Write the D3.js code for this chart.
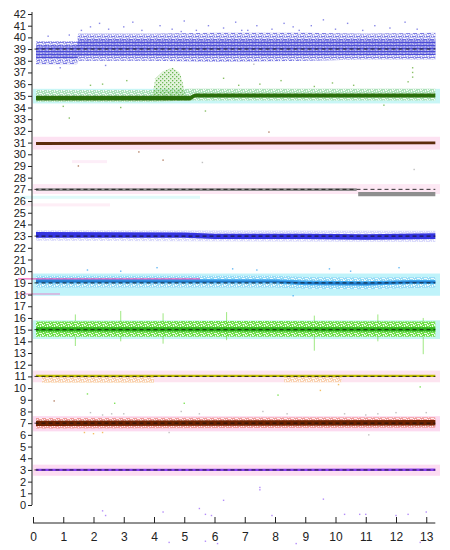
<!DOCTYPE html>
<html><head><meta charset="utf-8">
<script src="https://cdn.jsdelivr.net/npm/d3@7"></script>
<style>body{margin:0;background:#fff} svg text{font-family:"Liberation Sans",Arial,sans-serif}</style>
</head><body><svg id="c" width="450" height="550"></svg>
<script>
// ---------- data ----------
const xTicks = d3.range(0, 14);
const yTicks = d3.range(0, 43);
const nominal = [39, 35, 31, 27, 23, 19, 15, 11, 7, 3];
const dashedAt = [39, 27, 23, 19, 15, 11, 7, 3];
const coreColors = ["#3030c8", "#2a6e0a", "#5c2c0c", "#8e8e8e", "#3434e0", "#1e78c8", "#2cb018", "#c0c000", "#6e2200", "#8840ee"];
const spreadColors = ["#6a6ae0", "#6cb040", "#a06040", "#b0b0b0", "#6a6af0", "#40a8f0", "#60dc30", "#f0b040", "#e04020", "#a070f8"];
const bgColors = [null, "#c8f6f6", "#fde2f2", "#fde8f4", null, "#bff3fa", "#c6f6f2", "#fde4f0", "#fcdaf0", "#fddcf2"];
const bgLo = [0, 34.35, 30.4, 26.6, 0, 17.9, 14.2, 10.5, 6.3, 2.5];
const bgHi = [0, 35.6, 31.5, 27.45, 0, 19.8, 15.8, 11.5, 7.6, 3.45];

// [x, lo, hi] profiles
const spread39 = [[0.1,37.7,39.7],[1.45,37.7,39.7],[1.5,38.0,40.3],[4,38.0,40.3],[6,37.9,40.4],[9,38.0,40.4],[11,38.1,40.3],[13.3,38.1,40.4]];
const core39 = [[0.1,38.2,39.3],[1.45,38.2,39.3],[1.5,38.4,39.8],[6,38.4,39.8],[13.3,38.5,39.8]];
const spread35 = [[0.1,34.5,35.5],[4,34.5,35.5],[5.2,34.6,35.6],[13.3,34.6,35.6]];
const core35 = [[0.1,34.6,35.0],[5.2,34.6,35.0],[5.35,34.85,35.2],[13.3,34.85,35.2]];
const cloud35 = [[3.95,35.0,35.1],[4.05,35.0,36.5],[4.3,35.0,37.1],[4.6,35.0,37.4],[4.85,35.0,37.0],[4.97,35.0,35.9],[5.02,35.0,35.1]];
const core31 = [[0.1,30.8,31.05],[13.3,30.85,31.1]];
const core27a = [[0.1,26.85,27.1],[10.7,26.85,27.1]];
const core27b = [[10.75,26.4,26.78],[13.3,26.4,26.78]];
const spread23 = [[0.1,22.6,23.5],[13.3,22.5,23.45]];
const core23 = [[0.1,22.85,23.35],[5,22.85,23.3],[6,22.75,23.2],[9,22.75,23.2],[11,22.7,23.15],[13.3,22.75,23.25]];
const spread19 = [[0.1,18.6,19.6],[8,18.6,19.6],[9,18.5,19.5],[11,18.45,19.45],[13.3,18.6,19.5]];
const core19 = [[0.1,18.95,19.35],[8,18.95,19.3],[9,18.8,19.2],[11,18.75,19.15],[12.5,18.9,19.25],[13.3,18.9,19.25]];
const spread15 = [[0.1,14.4,15.7],[6,14.4,15.75],[13.3,14.4,15.7]];
const core15 = [[0.1,14.85,15.2],[13.3,14.85,15.2]];
const spread11a = [[0.3,10.45,10.95],[4,10.45,10.95]];
const spread11b = [[8.3,10.5,10.95],[10.2,10.5,10.95]];
const core11 = [[0.1,10.95,11.15],[13.3,10.95,11.15]];
const spread7 = [[0.1,6.55,7.45],[13.3,6.6,7.5]];
const core7 = [[0.1,6.75,7.2],[13.3,6.8,7.28]];
const core3 = [[0.1,2.9,3.1],[13.3,2.9,3.12]];
const spikes15 = [[1.4,13.6,16.3],[2.9,14.0,16.6],[4.3,13.8,16.4],[6.4,14.1,16.5],[9.3,13.2,16.2],[11.4,14.0,16.3],[12.9,12.9,16.0]];

// scattered outliers [x, y, colour index]
const outliers = [
 [0.5,40.1,0],[1.2,40.2,0],[1.6,40.6,0],[1.9,40.9,0],[2.2,41.2,0],[2.5,40.7,0],[3.0,40.9,0],[3.3,41.3,0],[3.6,40.6,0],[4.2,41.0,0],[4.6,40.7,0],[5.0,41.4,0],[5.4,40.6,0],[5.8,41.0,0],[6.3,40.8,0],[6.7,41.3,0],[7.1,40.6,0],[7.4,41.0,0],[7.9,40.7,0],[8.3,41.2,0],[8.8,40.6,0],[9.2,41.0,0],[9.6,41.5,0],[10.0,40.7,0],[10.4,41.2,0],[10.9,40.6,0],[11.3,41.0,0],[11.8,40.8,0],[12.3,41.3,0],[12.7,40.7,0],[0.9,37.4,0],[2.4,37.6,0],[7.3,37.7,3],[6.9,40.6,0],[8.6,40.9,0],[4.9,40.5,0],
 [1.0,34.1,1],[1.2,33.1,1],[1.9,35.9,1],[2.3,36.0,1],[3.1,36.3,1],[6.3,36.5,1],[6.8,35.9,1],[7.5,36.0,1],[9.3,35.8,1],[9.9,36.1,1],[10.6,35.9,1],[12.4,36.2,1],[12.55,37.0,1],[12.55,36.6,1],[12.55,37.4,1],[2.9,34.0,1],[5.7,33.7,1],[11.6,34.2,1],[8.2,36.3,1],
 [1.5,29.0,2],[4.3,29.5,2],[5.6,29.3,3],[12.6,28.7,3],[7.8,31.9,2],[3.5,30.2,2],
 [1.8,20.1,5],[2.9,20.0,5],[4.1,20.3,5],[6.6,20.2,5],[7.4,20.1,5],[9.8,20.2,5],[10.5,20.0,5],[12.1,20.3,5],[8.6,17.9,5],
 [1.8,9.5,6],[2.7,8.7,6],[0.7,8.9,2],[5.0,8.7,6],[8.1,9.4,6],[9.5,9.8,7],[10.1,10.3,7],[12.8,10.1,6],
 [1.9,7.9,3],[2.3,7.7,3],[2.6,7.8,3],[3.0,7.8,3],[4.9,8.0,3],[5.5,7.8,3],[7.6,8.0,3],[8.4,7.8,3],[10.3,7.8,3],[11.0,7.7,3],[11.4,7.8,3],[12.0,7.9,3],[13.0,7.9,3],[1.7,6.2,7],[2.0,6.1,7],[2.3,6.2,7],[4.5,6.2,3],[11.1,6.0,3],
 [2.3,-0.5,9],[2.4,-0.9,9],[4.3,-0.6,9],[5.5,-0.3,9],[5.7,-0.8,9],[5.9,-0.9,9],[7.5,1.5,9],[7.5,1.3,9],[7.9,-0.9,9],[10.3,-0.8,9],[10.8,-0.8,9],[11.0,-0.8,9],[12.0,-0.9,9],[12.4,-0.8,9],[13.0,-0.6,9],[6.3,0.4,9],[9.6,0.5,9],
 [1.0,-2.4,9],[4.5,-3.2,9],[5.7,-3.1,9],[6.1,-3.3,9],[8.7,-3.3,9],[9.0,-3.0,9],[10.9,-3.0,9],[12.8,-3.2,9]
];

// ---------- drawing ----------
const svg = d3.select("#c");
const x = d3.scaleLinear().domain([0, 13.3]).range([33, 33 + 13.3 * 30.25]);
const y = d3.scaleLinear().domain([0, 42]).range([505, 14]);

const defs = svg.append("defs");
const stripes = defs.append("pattern").attr("id", "stripes").attr("patternUnits", "userSpaceOnUse")
  .attr("width", 3).attr("height", 3);
stripes.append("rect").attr("width", 3).attr("height", 1.1).attr("fill", "#4a4ad8");
stripes.append("rect").attr("y", 1.1).attr("width", 1).attr("height", 1.9).attr("fill", "#a0a0ec");
const dots = defs.append("pattern").attr("id", "dots").attr("patternUnits", "userSpaceOnUse")
  .attr("width", 4).attr("height", 4);
dots.append("rect").attr("width", 1.3).attr("height", 1.3).attr("fill", "#3a9a20");
dots.append("rect").attr("x", 2).attr("y", 2).attr("width", 1.3).attr("height", 1.3).attr("fill", "#4aaa30");
// white speckle overlay to give a scattered-points texture
const speck = defs.append("pattern").attr("id", "speck").attr("patternUnits", "userSpaceOnUse")
  .attr("width", 7).attr("height", 5);
[[0,0,2,1],[3,1,1,1],[5,0,1,2],[1,2,1,1],[4,3,2,1],[0,4,1,1],[6,3,1,1],[2,4,1,1]].forEach(r =>
  speck.append("rect").attr("x", r[0]).attr("y", r[1]).attr("width", r[2]).attr("height", r[3]).attr("fill", "#fff"));

const area = d3.area().x(d => x(d[0])).y0(d => y(d[1])).y1(d => y(d[2]));

// background highlight strips
nominal.forEach((v, i) => {
  if (!bgColors[i]) return;
  svg.append("rect").attr("x", x(0)).attr("width", 440 - x(0))
    .attr("y", y(bgHi[i])).attr("height", y(bgLo[i]) - y(bgHi[i]))
    .attr("fill", bgColors[i]);
});
// faint extra strips seen around 19, 27 and 29
svg.append("rect").attr("x", 20).attr("width", 180).attr("y", y(26.45)).attr("height", 3).attr("fill", "#e0fafa");
svg.append("rect").attr("x", 20).attr("width", 90).attr("y", y(25.8)).attr("height", 3).attr("fill", "#feeef6");
svg.append("rect").attr("x", 72).attr("width", 35).attr("y", y(29.5)).attr("height", 3).attr("fill", "#fdeef8");

function band(data, fill, op, textured) {
  svg.append("path").datum(data).attr("d", area).attr("fill", fill).attr("opacity", op);
  if (textured) svg.append("path").datum(data).attr("d", area).attr("fill", "url(#speck)").attr("opacity", 0.85);
}
// band 39
band(spread39, "#c0c0f2", 0.9);
band(spread39, "url(#stripes)", 0.6, true);
band(core39, "url(#stripes)", 0.9);
band(core39, "#3a3ad0", 0.3);
// band 35
band(spread35, "#8cc870", 0.45, true);
band(cloud35, "url(#dots)", 0.9);
band(cloud35, "#a6d890", 0.3);
band(core35, coreColors[1], 1);
// band 31
band(core31, coreColors[2], 1);
// band 27
band(core27a, coreColors[3], 1);
band(core27b, coreColors[3], 1);
// band 23
band(spread23, spreadColors[4], 0.25, true);
band(core23, coreColors[4], 1);
// band 19
band(spread19, spreadColors[5], 0.3, true);
band(core19, spreadColors[5], 1);
svg.append("path").datum(core19.map(d => [d[0], d[1] + 0.1, d[2] - 0.12])).attr("d", area).attr("fill", coreColors[5]);
svg.append("line").attr("x1", 18).attr("x2", 200).attr("y1", y(19.35)).attr("y2", y(19.35))
  .attr("stroke", "#f040b0").attr("stroke-width", 1.2).attr("opacity", 0.8);
svg.append("line").attr("x1", 18).attr("x2", 60).attr("y1", y(18.05)).attr("y2", y(18.05))
  .attr("stroke", "#f070c0").attr("stroke-width", 1).attr("opacity", 0.8);
// band 15
spikes15.forEach(s => svg.append("line").attr("x1", x(s[0])).attr("x2", x(s[0]))
  .attr("y1", y(s[1])).attr("y2", y(s[2])).attr("stroke", spreadColors[6]).attr("stroke-width", 1).attr("opacity", 0.6));
band(spread15, spreadColors[6], 0.85, true);
band(core15, coreColors[6], 1);
// band 11
band(spread11a, spreadColors[7], 0.35, true);
band(spread11b, spreadColors[7], 0.35, true);
band(core11, coreColors[7], 1);
// band 7
band(spread7, spreadColors[8], 0.4, true);
band(core7, coreColors[8], 1);
// band 3
band(core3, coreColors[9], 1);

// outliers
svg.append("g").selectAll("rect").data(outliers).join("rect")
  .attr("x", d => x(d[0]) - 0.7).attr("y", d => y(d[1]) - 0.7)
  .attr("width", 1.4).attr("height", 1.4)
  .attr("fill", d => spreadColors[d[2]]).attr("opacity", 0.8);

// nominal dashed lines
svg.append("g").selectAll("line").data(dashedAt).join("line")
  .attr("x1", x(0.05)).attr("x2", x(13.3))
  .attr("y1", d => y(d)).attr("y2", d => y(d))
  .attr("stroke", "#111").attr("stroke-width", 1).attr("stroke-dasharray", "4,3").attr("opacity", 0.85);

// axes
const yAxis = svg.append("g").attr("transform", "translate(32,0)")
  .call(d3.axisLeft(y).tickValues(yTicks).tickFormat(d3.format("d")).tickSize(4).tickPadding(2).tickSizeOuter(0));
yAxis.select(".domain").attr("d", `M0,${y(0)}V${y(42) - 2}`);
yAxis.selectAll("text").attr("font-size", 11).attr("fill", "#222");
yAxis.selectAll("line,path").attr("stroke", "#222");

const xAxis = svg.append("g").attr("transform", "translate(0,523)")
  .call(d3.axisBottom(x).tickValues(xTicks).tickFormat(d3.format("d")).tickSizeInner(-6).tickSizeOuter(0).tickPadding(9));
xAxis.select(".domain").attr("d", `M${x(0)},0H${x(13.3)}`);
xAxis.selectAll("text").attr("font-size", 12).attr("fill", "#222");
xAxis.selectAll("line,path").attr("stroke", "#222");
</script></body></html>
